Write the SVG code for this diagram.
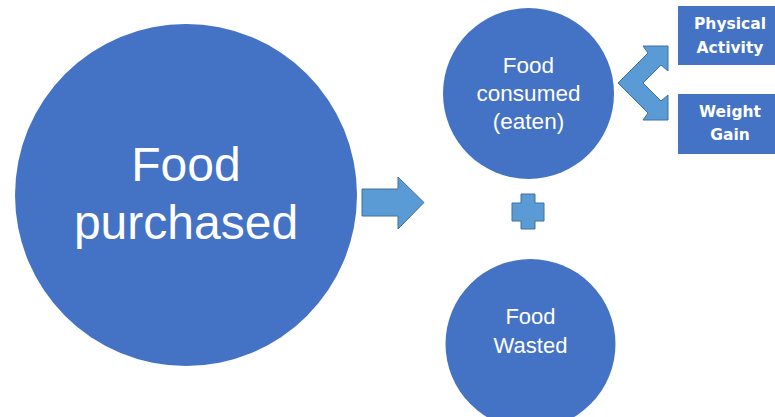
<svg xmlns="http://www.w3.org/2000/svg" width="775" height="417" viewBox="0 0 775 417">
<style>
.c{fill:#4472C4}
.a{fill:#5B9BD5;stroke:#41719C;stroke-width:1}
.t{fill:#fff;font-family:"Liberation Sans",Arial,sans-serif;text-anchor:middle}
.b{fill:#fff;font-family:"DejaVu Sans",Verdana,sans-serif;font-weight:bold;font-size:15.5px;text-anchor:middle}
</style>
<rect width="775" height="417" fill="#fff"/>
<g id="purchased">
<circle class="c" cx="186" cy="195" r="171"/>
<text class="t" font-size="48" x="186" y="181">Food</text>
<text class="t" font-size="48" x="186" y="239">purchased</text>
</g>
<g id="consumed">
<circle class="c" cx="528.5" cy="93.5" r="85.5"/>
<text class="t" font-size="22.5" x="528.5" y="73">Food</text>
<text class="t" font-size="22.5" x="528.5" y="101">consumed</text>
<text class="t" font-size="22.5" x="528.5" y="129">(eaten)</text>
</g>
<g id="wasted">
<circle class="c" cx="530.5" cy="344" r="85"/>
<text class="t" font-size="22" x="530.5" y="324">Food</text>
<text class="t" font-size="22" x="530.5" y="353">Wasted</text>
</g>
<g id="activity">
<rect class="c" x="678" y="6" width="100" height="59"/>
<text class="b" x="730" y="29">Physical</text>
<text class="b" x="730" y="53">Activity</text>
</g>
<g id="weight">
<rect class="c" x="678" y="94" width="100" height="60"/>
<text class="b" x="730" y="117">Weight</text>
<text class="b" x="730" y="140">Gain</text>
</g>
<g id="connectors">
<path class="a" d="M362,189 H398 V177 L424,202.5 L398,229 V216 H362 Z"/>
<path class="a" d="M521,194 H535 V203 H544 V221 H535 V229 H521 V221 H512 V203 H521 Z"/>
<path class="a" d="M618,83 L648,53 L643,46 H668 V71 L661,65 L643,83 L661,101 L668,95 V120 H643 L648,113 Z"/>
</g>
</svg>
